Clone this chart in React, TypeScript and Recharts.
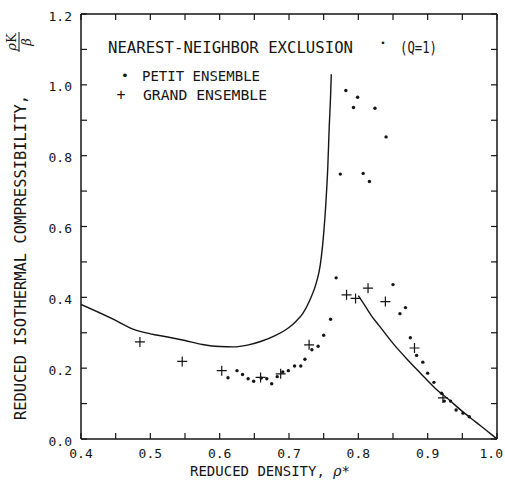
import React from 'react';
import { ComposedChart, Line, Scatter, XAxis, YAxis } from 'recharts';

// ---- data ----
const xTicks = [0.4, 0.45, 0.5, 0.55, 0.6, 0.65, 0.7, 0.75, 0.8, 0.85, 0.9, 0.95, 1.0];
const yTicks = [0, 0.1, 0.2, 0.3, 0.4, 0.5, 0.6, 0.7, 0.8, 0.9, 1.0, 1.1, 1.2];
const xMajorLabels = ['0.4', '0.5', '0.6', '0.7', '0.8', '0.9', '1.0'];
const yMajorLabels = ['0.0', '0.2', '0.4', '0.6', '0.8', '1.0', '1.2'];

const theoryLeftX = [0.4, 0.45, 0.475, 0.5, 0.525, 0.55, 0.575, 0.6, 0.62, 0.64, 0.66, 0.68, 0.7, 0.71, 0.72, 0.73, 0.74, 0.745, 0.75, 0.753, 0.756, 0.758, 0.76, 0.761];
const theoryLeftY = [0.38, 0.335, 0.31, 0.297, 0.288, 0.278, 0.267, 0.261, 0.26, 0.265, 0.276, 0.292, 0.315, 0.332, 0.355, 0.392, 0.445, 0.49, 0.58, 0.66, 0.77, 0.88, 0.97, 1.03];

const theoryRightX = [0.8, 0.81, 0.82, 0.83, 0.85, 0.87, 0.89, 0.91, 0.93, 0.95, 0.97, 0.99, 1.0];
const theoryRightY = [0.405, 0.375, 0.345, 0.32, 0.27, 0.226, 0.185, 0.145, 0.112, 0.078, 0.047, 0.016, 0.0];

const petitX = [0.612, 0.625, 0.633, 0.641, 0.649, 0.66, 0.668, 0.675, 0.683, 0.691, 0.699, 0.708, 0.717, 0.723, 0.733, 0.742, 0.75, 0.76, 0.768, 0.774, 0.782, 0.793, 0.799, 0.807, 0.816, 0.824, 0.84, 0.85, 0.86, 0.868, 0.875, 0.884, 0.893, 0.9, 0.909, 0.92, 0.924, 0.933, 0.941, 0.951, 0.96];
const petitY = [0.173, 0.193, 0.182, 0.17, 0.163, 0.172, 0.17, 0.156, 0.176, 0.189, 0.193, 0.206, 0.206, 0.225, 0.252, 0.262, 0.293, 0.338, 0.455, 0.748, 0.984, 0.936, 0.965, 0.75, 0.727, 0.934, 0.853, 0.436, 0.354, 0.371, 0.286, 0.236, 0.217, 0.186, 0.16, 0.129, 0.107, 0.107, 0.082, 0.073, 0.063];

const grandX = [0.485, 0.546, 0.603, 0.659, 0.688, 0.729, 0.783, 0.796, 0.814, 0.839, 0.881, 0.922];
const grandY = [0.274, 0.219, 0.193, 0.174, 0.184, 0.266, 0.407, 0.397, 0.426, 0.388, 0.257, 0.116];

const toPts = (xs: number[], ys: number[]) => xs.map((x, i) => ({ x, y: ys[i] }));
const theoryLeft = toPts(theoryLeftX, theoryLeftY);
const theoryRight = toPts(theoryRightX, theoryRightY);
const petit = toPts(petitX, petitY);
const grand = toPts(grandX, grandY);

const INK = '#151515';
const FONT = '"DejaVu Sans Mono", monospace';
const TL = 6;

const xLabelFor = (v: number) => {
  const i = xMajorLabels.findIndex((s) => Math.abs(parseFloat(s) - v) < 1e-6);
  return i >= 0 ? xMajorLabels[i] : null;
};
const yLabelFor = (v: number) => {
  const i = yMajorLabels.findIndex((s) => Math.abs(parseFloat(s) - v) < 1e-6);
  return i >= 0 ? yMajorLabels[i] : null;
};

const BottomTick = (p: any) => {
  const { x, y, payload } = p;
  const lab = xLabelFor(payload.value);
  const last = Math.abs(payload.value - 1.0) < 1e-6;
  return (
    <g>
      <line x1={x} y1={y} x2={x} y2={y - TL} stroke={INK} strokeWidth={1.2} />
      {lab && (
        <text
          x={last ? x + 6 : x}
          y={y + 19}
          textAnchor={last ? 'end' : 'middle'}
          fontFamily={FONT}
          fontSize={13}
          fill={INK}
        >
          {lab}
        </text>
      )}
    </g>
  );
};
const TopTick = (p: any) => {
  const { x, y } = p;
  return <line x1={x} y1={y} x2={x} y2={y + TL} stroke={INK} strokeWidth={1.2} />;
};
const LeftTick = (p: any) => {
  const { x, y, payload } = p;
  const lab = yLabelFor(payload.value);
  return (
    <g>
      <line x1={x} y1={y} x2={x + TL} y2={y} stroke={INK} strokeWidth={1.2} />
      {lab && (
        <text x={x - 9} y={y + 6.5} textAnchor="end" fontFamily={FONT} fontSize={13} fill={INK}>
          {lab}
        </text>
      )}
    </g>
  );
};
const RightTick = (p: any) => {
  const { x, y } = p;
  return <line x1={x} y1={y} x2={x - TL} y2={y} stroke={INK} strokeWidth={1.2} />;
};

const Dot = (p: any) => <circle cx={p.cx} cy={p.cy} r={1.7} fill={INK} />;
const Cross = (p: any) => (
  <path
    d={`M${p.cx - 5},${p.cy}H${p.cx + 5}M${p.cx},${p.cy - 5}V${p.cy + 5}`}
    stroke={INK}
    strokeWidth={1.2}
    fill="none"
  />
);

const W = 505;
const H = 487;

export default function App() {
  return (
    <div style={{ position: 'absolute', left: 0, top: 0, width: W, height: H, background: '#fff' }}>
      <ComposedChart width={W} height={H} margin={{ top: 4, right: 0, bottom: 18, left: 41 }}>
        <XAxis
          xAxisId="b"
          dataKey="x"
          type="number"
          orientation="bottom"
          domain={[0.4, 1.0]}
          ticks={xTicks}
          allowDataOverflow
          height={30}
          tickSize={0}
          tickMargin={0}
          tickLine={false}
          axisLine={{ stroke: INK, strokeWidth: 1.5 }}
          tick={<BottomTick />}
          interval={0}
        />
        <XAxis
          xAxisId="t"
          dataKey="x"
          type="number"
          orientation="top"
          domain={[0.4, 1.0]}
          ticks={xTicks}
          allowDataOverflow
          height={10}
          tickSize={0}
          tickMargin={0}
          tickLine={false}
          axisLine={{ stroke: INK, strokeWidth: 1.5 }}
          tick={<TopTick />}
          interval={0}
        />
        <YAxis
          yAxisId="l"
          type="number"
          orientation="left"
          domain={[0, 1.2]}
          ticks={yTicks}
          allowDataOverflow
          width={40}
          tickSize={0}
          tickMargin={0}
          tickLine={false}
          axisLine={{ stroke: INK, strokeWidth: 1.5 }}
          tick={<LeftTick />}
          interval={0}
        />
        <YAxis
          yAxisId="r"
          type="number"
          orientation="right"
          domain={[0, 1.2]}
          ticks={yTicks}
          allowDataOverflow
          width={8}
          tickSize={0}
          tickMargin={0}
          tickLine={false}
          axisLine={{ stroke: INK, strokeWidth: 1.5 }}
          tick={<RightTick />}
          interval={0}
        />
        <Line
          xAxisId="b"
          yAxisId="l"
          data={theoryLeft}
          dataKey="y"
          type="monotone"
          stroke={INK}
          strokeWidth={1.4}
          dot={false}
          activeDot={false}
          isAnimationActive={false}
        />
        <Line
          xAxisId="b"
          yAxisId="l"
          data={theoryRight}
          dataKey="y"
          type="monotone"
          stroke={INK}
          strokeWidth={1.4}
          dot={false}
          activeDot={false}
          isAnimationActive={false}
        />
        <Scatter xAxisId="b" yAxisId="l" data={petit} dataKey="y" shape={<Dot />} isAnimationActive={false} />
        <Scatter xAxisId="b" yAxisId="l" data={grand} dataKey="y" shape={<Cross />} isAnimationActive={false} />
      </ComposedChart>
      <svg
        width={W}
        height={H}
        style={{ position: 'absolute', left: 0, top: 0, pointerEvents: 'none' }}
      >
        <g fontFamily={FONT} fill={INK}>
          <text x={108} y={53} fontSize={15} textLength={245} lengthAdjust="spacingAndGlyphs">
            NEAREST-NEIGHBOR EXCLUSION
          </text>
          <text x={383} y={46} fontSize={9} textAnchor="middle">•</text>
          <text x={400} y={53} fontSize={15} textLength={37} lengthAdjust="spacingAndGlyphs">
            (Q=1)
          </text>
          <text x={125} y={80} fontSize={13} textAnchor="middle">•</text>
          <text x={142} y={81} fontSize={14} textLength={118} lengthAdjust="spacingAndGlyphs">
            PETIT ENSEMBLE
          </text>
          <text x={121} y={100} fontSize={15} textAnchor="middle">+</text>
          <text x={143} y={100} fontSize={14} textLength={124} lengthAdjust="spacingAndGlyphs">
            GRAND ENSEMBLE
          </text>
          <text x={270} y={476} fontSize={14} textAnchor="middle">
            REDUCED DENSITY, <tspan fontFamily="'DejaVu Serif', serif" fontStyle="italic">ρ</tspan>*
          </text>
          <g transform="translate(26, 420) rotate(-90)">
            <text x={0} y={0} fontSize={15} textLength={325} lengthAdjust="spacingAndGlyphs">
              REDUCED ISOTHERMAL COMPRESSIBILITY,
            </text>
          </g>
          <g transform="translate(18, 42) rotate(-90)">
            <text x={0} y={-2} fontSize={13} textAnchor="middle" fontFamily="'DejaVu Serif', serif">
              <tspan fontStyle="italic">ρ</tspan>K
            </text>
            <line x1={-10} y1={1} x2={10} y2={1} stroke={INK} strokeWidth={1} />
            <text x={0} y={13} fontSize={13} textAnchor="middle" fontFamily="'DejaVu Serif', serif" fontStyle="italic">
              β
            </text>
          </g>
        </g>
      </svg>
    </div>
  );
}
